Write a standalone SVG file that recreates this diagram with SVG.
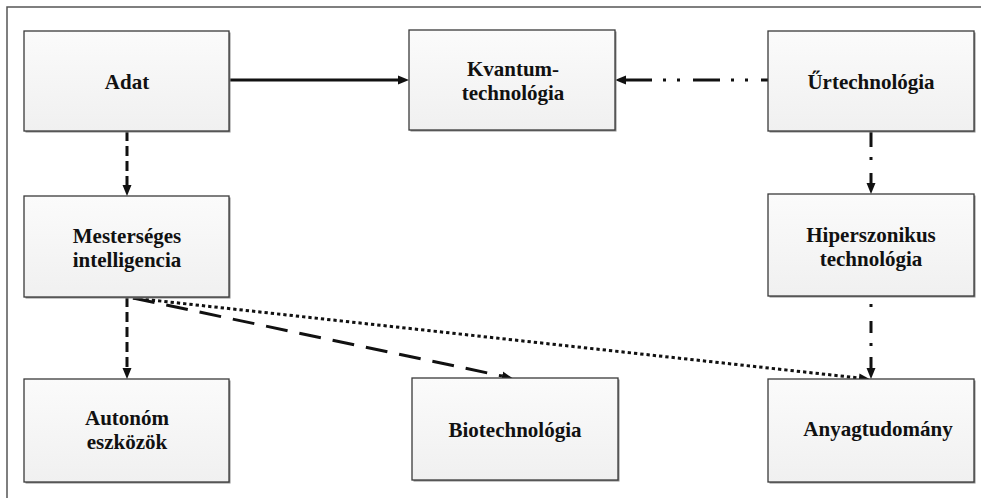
<svg xmlns="http://www.w3.org/2000/svg" width="981" height="498" viewBox="0 0 981 498">
<style>
.box{fill:url(#bg);stroke:#3a3a3a;stroke-width:1.3}
.sh{fill:#8c8c8c}
.t{font-weight:bold;font-size:21px;fill:#111;text-anchor:middle}
.c{fill:none;stroke:#111;stroke-width:3;stroke-linecap:butt}
.frame{fill:none;stroke:#555;stroke-width:1.5}
</style>
<defs>
<linearGradient id="bg" x1="0" y1="0" x2="0" y2="1">
<stop offset="0" stop-color="#fbfbfb"/>
<stop offset="1" stop-color="#f0f0f0"/>
</linearGradient>
<marker id="ah" markerUnits="userSpaceOnUse" markerWidth="12" markerHeight="12" viewBox="0 0 12 12" refX="0" refY="6" orient="auto">
<path d="M0,1.5 L11,6 L0,10.5 Z" fill="#111"/>
</marker>
</defs>
<path class="frame" d="M7,498 V7 H981"/>
<g id="connectors">
<path class="c" d="M229,80 H398" marker-end="url(#ah)"/>
<path class="c" d="M768,80 H626" stroke-dasharray="27 13 3 11 3 11" stroke-dashoffset="20" marker-end="url(#ah)"/>
<path class="c" d="M127,131 V185" stroke-width="3.5" stroke-dasharray="10 5" marker-end="url(#ah)"/>
<path class="c" d="M871,131 V183" stroke-dasharray="16 10 3 13 100" marker-end="url(#ah)"/>
<path class="c" d="M127,297 V368" stroke-width="3.5" stroke-dasharray="10 5" marker-end="url(#ah)"/>
<path class="c" d="M871,296 V368" stroke-dasharray="0 8 3 14 12 10 3 11 100" marker-end="url(#ah)"/>
<path class="c" d="M133,298 L502,376" stroke-width="3.5" stroke-dasharray="22 12" marker-end="url(#ah)"/>
<path class="c" d="M133,298 L859,378" stroke-width="3.3" stroke-dasharray="3.3 3" marker-end="url(#ah)"/>
</g>
<g font-family="'Liberation Serif', 'DejaVu Serif', serif">
<g id="adat">
<rect class="sh" x="25.5" y="32.5" width="205" height="100"/>
<rect class="box" x="24" y="31" width="205" height="100"/>
<text class="t" x="127" y="89">Adat</text>
</g>
<g id="kvantum">
<rect class="sh" x="410.5" y="31.5" width="206" height="100"/>
<rect class="box" x="409" y="30" width="206" height="100"/>
<text class="t" x="513" y="76">Kvantum-</text>
<text class="t" x="513" y="100">technológia</text>
</g>
<g id="urtechnologia">
<rect class="sh" x="769.5" y="32.5" width="206" height="100"/>
<rect class="box" x="768" y="31" width="206" height="100"/>
<text class="t" x="871" y="89">Űrtechnológia</text>
</g>
<g id="mesterseges">
<rect class="sh" x="25.5" y="197.5" width="205" height="101"/>
<rect class="box" x="24" y="196" width="205" height="101"/>
<text class="t" x="127" y="243">Mesterséges</text>
<text class="t" x="127" y="267">intelligencia</text>
</g>
<g id="hiperszonikus">
<rect class="sh" x="769.5" y="195.5" width="206" height="102"/>
<rect class="box" x="768" y="194" width="206" height="102"/>
<text class="t" x="871" y="242">Hiperszonikus</text>
<text class="t" x="871" y="266">technológia</text>
</g>
<g id="autonom">
<rect class="sh" x="25.5" y="380.5" width="205" height="103"/>
<rect class="box" x="24" y="379" width="205" height="103"/>
<text class="t" x="127" y="425">Autonóm</text>
<text class="t" x="127" y="449">eszközök</text>
</g>
<g id="biotechnologia">
<rect class="sh" x="413.5" y="379.5" width="206" height="102"/>
<rect class="box" x="412" y="378" width="206" height="102"/>
<text class="t" x="515" y="437">Biotechnológia</text>
</g>
<g id="anyagtudomany">
<rect class="sh" x="769.5" y="380.5" width="206" height="103"/>
<rect class="box" x="768" y="379" width="206" height="103"/>
<text class="t" x="878" y="436">Anyagtudomány</text>
</g>
</g>
</svg>
